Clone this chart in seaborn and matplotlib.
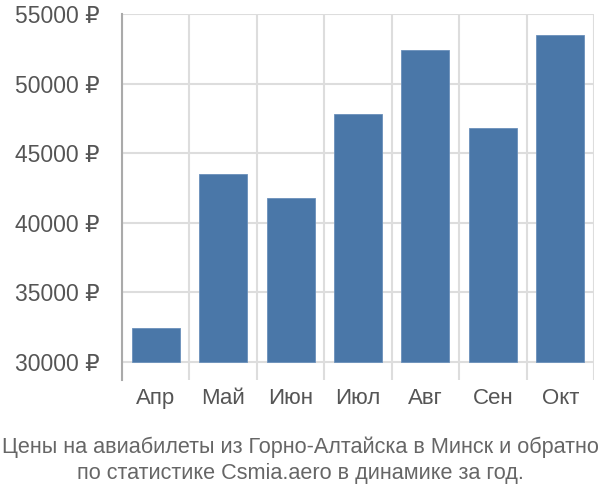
import matplotlib
matplotlib.use("Agg")
import matplotlib.pyplot as plt
import seaborn as sns
import pandas as pd

months = ["Апр", "Май", "Июн", "Июл", "Авг", "Сен", "Окт"]
prices = [32440, 43500, 41780, 47820, 52400, 46810, 53490]
yticks = [30000, 35000, 40000, 45000, 50000, 55000]
title_lines = ["Цены на авиабилеты из Горно-Алтайска в Минск и обратно",
               "по статистике Csmia.aero в динамике за год."]

sns.set_theme(style="white")
plt.rcParams["font.family"] = ["Liberation Sans", "DejaVu Sans"]

df = pd.DataFrame({"month": months, "price": prices})

fig = plt.figure(figsize=(6, 5), dpi=100)
ax = fig.add_axes([122/600, 1-380/500, (594-122)/600, (380-14)/500])

sns.barplot(data=df, x="month", y="price", order=months, color="#4a77a8",
            saturation=1, width=0.71, edgecolor="#6a90bb", linewidth=0.6, ax=ax, zorder=3)

base = 30000
for p in ax.patches:
    top = p.get_y() + p.get_height()
    p.set_y(base)
    p.set_height(top - base)

ymin = base - 18 / 13.92 * 1000
ax.set_ylim(ymin, 55000)
ax.set_xlim(-0.5, len(months) - 0.5)

ax.set_yticks(yticks)
ax.set_yticklabels([f"{v} ₽" for v in yticks])
for v in yticks:
    ax.axhline(v, color="#dddddd", linewidth=1.5, zorder=1)
for i in range(len(months) + 1):
    ax.axvline(i - 0.5, color="#dddddd", linewidth=1.5, zorder=1)

ax.tick_params(axis="y", length=14, width=1.5, color="#dddddd", labelsize=16.5,
               labelcolor="#555555", pad=2)
ax.tick_params(axis="x", length=0, labelsize=16, labelcolor="#555555", pad=6)
ax.set_xlabel("")
ax.set_ylabel("")

for s in ["top", "right", "bottom"]:
    ax.spines[s].set_visible(False)
ax.spines["left"].set_color("#aaaaaa")
ax.spines["left"].set_linewidth(1.5)
ax.spines["left"].set_zorder(4)

fig.text(0.5, 1 - 447/500, title_lines[0], ha="center", va="center",
         fontsize=15.6, color="#666666")
fig.text(0.5, 1 - 473/500, title_lines[1], ha="center", va="center",
         fontsize=15.6, color="#666666")

fig.savefig("out.png", dpi=100)
